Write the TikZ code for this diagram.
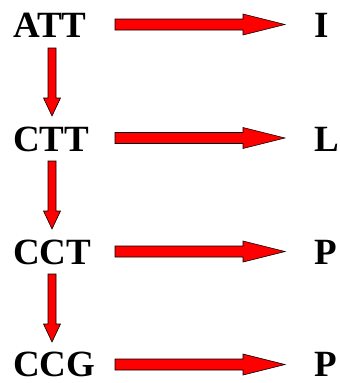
\documentclass[tikz,border=0pt]{standalone}
\usepackage{fontspec}
\setmainfont{Liberation Serif}
\usetikzlibrary{calc}
\tikzset{
  lbl/.style={anchor=base west, inner sep=0pt, font=\fontsize{37}{40}\selectfont\bfseries},
  fat/.style={fill=red, draw=black, line width=0.6pt, line join=miter}
}
\newcommand\harr[2]{\filldraw[fat] ($(#1)+(0,-5.5)$) -- ($(#2)+(-42,-5.5)$) -- ($(#2)+(-42,-10.5)$) -- (#2) -- ($(#2)+(-42,10.5)$) -- ($(#2)+(-42,5.5)$) -- ($(#1)+(0,5.5)$) -- cycle;}
\newcommand\varr[2]{\filldraw[fat] ($(#1)+(-4,0)$) -- ($(#2)+(-4,-18)$) -- ($(#2)+(-8.5,-18)$) -- (#2) -- ($(#2)+(8.5,-18)$) -- ($(#2)+(4,-18)$) -- ($(#1)+(4,0)$) -- cycle;}
\begin{document}
\begin{tikzpicture}[x=1pt,y=-1pt]
\useasboundingbox (0,0) rectangle (340,383);
\node[lbl] (c1) at (13,37.5) {ATT};
\node[lbl] (c2) at (13,151) {CTT};
\node[lbl] (c3) at (13,264) {CCT};
\node[lbl] (c4) at (13,376.5) {CCG};
\node[lbl] (a1) at (314,37.5) {I};
\node[lbl] (a2) at (314,151) {L};
\node[lbl] (a3) at (314,264) {P};
\node[lbl] (a4) at (314,376.5) {P};
\foreach \i/\y in {1/24.5,2/138,3/251.5,4/364.5}{
  \coordinate (hs\i) at (115,\y);
  \coordinate (he\i) at (285,\y);
}
\harr{hs1}{he1}
\harr{hs2}{he2}
\harr{hs3}{he3}
\harr{hs4}{he4}
\coordinate (vs1) at (52,48);  \coordinate (ve1) at (52,116);
\coordinate (vs2) at (52,161); \coordinate (ve2) at (52,229);
\coordinate (vs3) at (52,274); \coordinate (ve3) at (52,342);
\varr{vs1}{ve1}
\varr{vs2}{ve2}
\varr{vs3}{ve3}
\end{tikzpicture}
\end{document}
